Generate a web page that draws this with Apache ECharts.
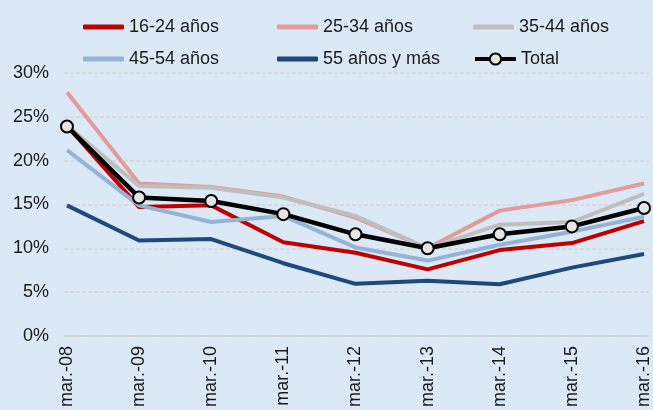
<!DOCTYPE html>
<html>
<head>
<meta charset="utf-8">
<script src="https://cdn.jsdelivr.net/npm/echarts@6/dist/echarts.min.js"></script>
<style>
  html, body { margin: 0; padding: 0; background: #dbe8f5; }
  #chart { width: 653px; height: 410px; }
</style>
</head>
<body>
<div id="chart"></div>
<script>
const categories = ["mar.-08", "mar.-09", "mar.-10", "mar.-11", "mar.-12", "mar.-13", "mar.-14", "mar.-15", "mar.-16"];

const age16_24 = [24.0, 14.7, 14.9, 10.7, 9.5, 7.6, 9.8, 10.6, 13.1];
const age25_34 = [27.8, 17.4, 17.0, 15.9, 13.5, 10.0, 14.3, 15.5, 17.4];
const age35_44 = [24.0, 17.1, 16.9, 15.8, 13.7, 10.0, 12.7, 13.0, 16.2];
const age45_54 = [21.2, 14.9, 13.0, 13.7, 10.1, 8.6, 10.4, 11.9, 13.6];
const age55 = [14.9, 10.9, 11.05, 8.3, 5.95, 6.3, 5.9, 7.8, 9.35];
const total = [23.9, 15.8, 15.4, 13.9, 11.6, 10.0, 11.6, 12.5, 14.6];

const yTicks = [0, 5, 10, 15, 20, 25, 30];

const chart = echarts.init(document.getElementById("chart"));

const font = "'Liberation Sans', Arial, sans-serif";
const pts = (arr) => arr.map((v, i) => [i, v]);

const groups = [
  { name: "16-24 años", data: age16_24, color: "#c00000" },
  { name: "25-34 años", data: age25_34, color: "#e39b9b" },
  { name: "35-44 años", data: age35_44, color: "#bfbfbf" },
  { name: "45-54 años", data: age45_54, color: "#95b3d7" },
  { name: "55 años y más", data: age55, color: "#1f497d" }
];

const series = groups.map(g => ({
  name: g.name,
  type: "line",
  data: pts(g.data),
  symbol: "none",
  color: g.color,
  lineStyle: { width: 4, color: g.color },
  animation: false
}));

series.push({
  name: "Total",
  type: "line",
  data: pts(total),
  symbol: "circle",
  symbolSize: 12,
  color: "#000",
  lineStyle: { width: 4.5, color: "#000" },
  itemStyle: { color: "#e4e4e4", borderColor: "#000", borderWidth: 2 },
  animation: false
});

// legend laid out in a 3x2 grid, one legend per item
const legendPos = [
  [78, 13], [272, 13], [468, 13],
  [78, 45], [272, 45], [468, 45]
];
const names = groups.map(g => g.name).concat(["Total"]);
const legends = names.map((n, i) => {
  const isTotal = n === "Total";
  return {
    data: [n],
    left: legendPos[i][0],
    top: legendPos[i][1],
    itemWidth: 41,
    itemHeight: isTotal ? 14 : 5,
    icon: isTotal ? undefined : "roundRect",
    lineStyle: { width: 4 },
    textStyle: { fontFamily: font, fontSize: 18, color: "#1a1a1a" },
    selectedMode: false
  };
});

chart.setOption({
  backgroundColor: "#dbe8f5",
  legend: legends,
  grid: { left: 64, right: 0, top: 73, bottom: 73 },
  xAxis: {
    type: "value",
    min: -0.041,
    max: 8.07,
    axisLine: { show: true, lineStyle: { color: "#d0d0d0", width: 1.5 } },
    axisTick: { show: false },
    splitLine: { show: false },
    axisLabel: {
      customValues: categories.map((c, i) => i),
      formatter: (v) => categories[Math.round(v)],
      rotate: 90,
      margin: 10,
      fontFamily: font,
      fontSize: 18,
      color: "#1a1a1a"
    }
  },
  yAxis: {
    type: "value",
    min: 0,
    max: 30,
    interval: 5,
    axisLine: { show: false },
    axisTick: { show: false },
    splitLine: { lineStyle: { color: "#d6d6d6", width: 1.5, type: [4, 2] } },
    axisLabel: {
      customValues: yTicks,
      formatter: "{value}%",
      margin: 15,
      fontFamily: font,
      fontSize: 18,
      color: "#1a1a1a"
    }
  },
  series: series
});
</script>
</body>
</html>
